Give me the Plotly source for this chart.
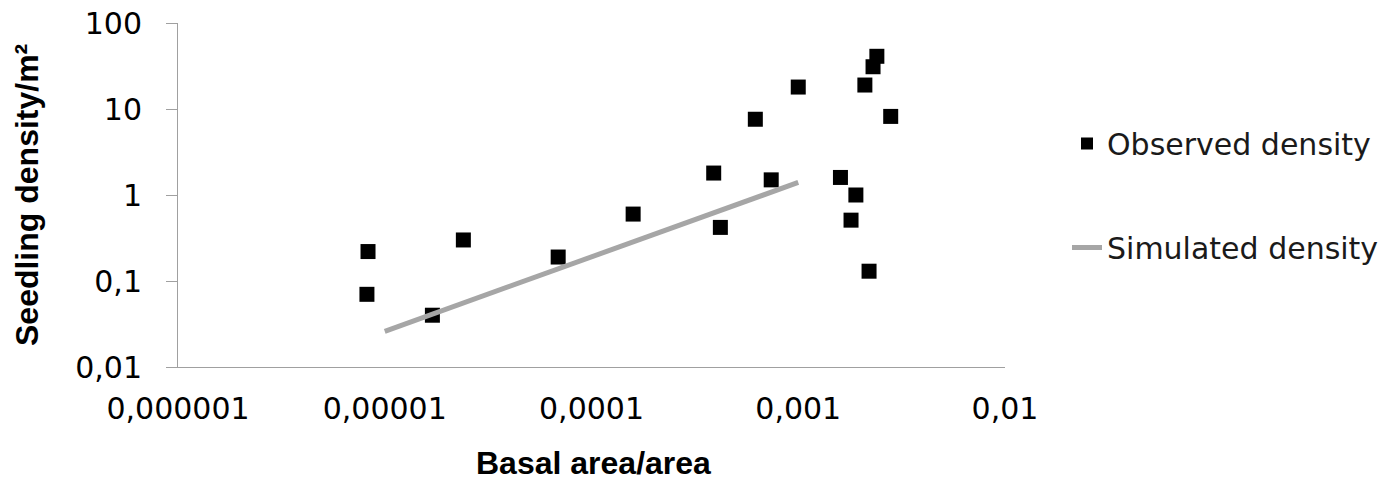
import plotly.graph_objects as go

obs_x = [8.3e-6, 8.2e-6, 2.4e-5, 1.7e-5, 6.9e-5, 1.59e-4, 4.2e-4, 3.9e-4, 6.2e-4,
         1.0e-3, 7.4e-4, 2.4e-3, 2.3e-3, 2.1e-3, 2.8e-3, 1.6e-3, 1.9e-3, 1.8e-3, 2.2e-3]
obs_y = [0.22, 0.07, 0.3, 0.04, 0.19, 0.6, 0.42, 1.8, 7.6,
         18, 1.5, 41, 31, 19, 8.2, 1.6, 1.0, 0.51, 0.13]

# Simulated density (straight line in log-log)
sim_x = [1.0e-5, 1.0e-3]
sim_y = [0.026, 1.4]

x_tickvals = [1e-6, 1e-5, 1e-4, 1e-3, 1e-2]
x_ticktext = ["0,000001", "0,00001", "0,0001", "0,001", "0,01"]
y_tickvals = [0.01, 0.1, 1, 10, 100]
y_ticktext = ["0,01", "0,1", "1", "10", "100"]

FONT = "DejaVu Sans"
TFONT = "Liberation Sans"

fig = go.Figure()
fig.add_trace(go.Scatter(
    x=obs_x, y=obs_y, mode="markers", name="Observed density",
    legendgroup="a",
    marker=dict(symbol="square", size=15, color="black"),
))
fig.add_trace(go.Scatter(
    x=sim_x, y=sim_y, mode="lines", name="Simulated density",
    legendgroup="b",
    line=dict(color="#a6a6a6", width=5),
))

fig.update_layout(
    width=1398, height=490,
    margin=dict(l=178, r=393, t=23, b=123, autoexpand=False),
    paper_bgcolor="white", plot_bgcolor="white",
    font=dict(family=FONT, size=30, color="black"),
    showlegend=True,
    legend=dict(x=(1067 - 178) / 827, y=0.725, xanchor="left", yanchor="top",
                tracegroupgap=62, itemsizing="constant",
                font=dict(size=30, family=FONT, color="#1a1a1a"),
                bgcolor="rgba(0,0,0,0)"),
    xaxis=dict(type="log", range=[-6, -2], tickvals=x_tickvals, ticktext=x_ticktext,
               showgrid=False, zeroline=False, showline=True, linecolor="#a0a0a0",
               linewidth=1, ticks="", ticklabelstandoff=15, automargin=False,
               tickfont=dict(size=30, family=FONT)),
    yaxis=dict(type="log", range=[-2, 2], tickvals=y_tickvals, ticktext=y_ticktext,
               showgrid=False, zeroline=False, showline=True, linecolor="#a0a0a0",
               linewidth=1, ticks="outside", ticklen=11, tickcolor="#a0a0a0",
               ticklabelstandoff=18, automargin=False,
               tickfont=dict(size=30, family=FONT)),
    annotations=[
        dict(text="<b>Seedling density/m²</b>", xref="paper", yref="paper",
             x=-(178 - 27) / 827, y=0.5, textangle=-90, showarrow=False,
             xanchor="center", yanchor="middle", font=dict(size=32, family=TFONT)),
        dict(text="<b>Basal area/area</b>", xref="paper", yref="paper",
             x=(593 - 178) / 827, y=-(463 - 367) / 344, showarrow=False,
             xanchor="center", yanchor="middle", font=dict(size=32, family=TFONT)),
    ],
)

fig.write_html("out.html")
